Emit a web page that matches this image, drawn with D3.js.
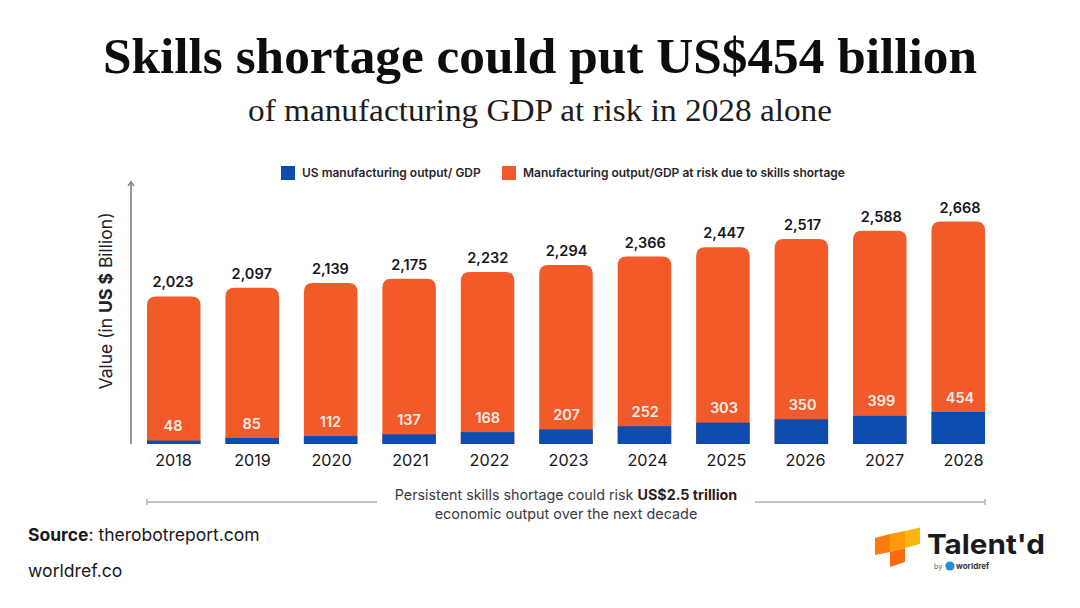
<!DOCTYPE html>
<html><head><meta charset="utf-8">
<script src="https://cdn.jsdelivr.net/npm/d3@7"></script>
<style>html,body{margin:0;padding:0;background:#fff}svg{display:block}text{font-family:Inter,sans-serif}</style>
</head><body><div id="c"></div>
<script>
const years=[2018,2019,2020,2021,2022,2023,2024,2025,2026,2027,2028];
const totals=[2023,2097,2139,2175,2232,2294,2366,2447,2517,2588,2668];
const atRisk=[48,85,112,137,168,207,252,303,350,399,454];
const legendLabels=["US manufacturing output/ GDP","Manufacturing output/GDP at risk due to skills shortage"];
const blue="#0b4cae",orange="#f25b29",ink="#16161a";
const svg=d3.select("#c").append("svg").attr("width",1080).attr("height",608);
const x=d3.scaleBand().domain(years).range([147,985]).paddingInner(0.318).paddingOuter(0);
const xTick=d3.scalePoint().domain(years).range([173,963]);
const xValue=d3.scalePoint().domain(years).range([173,960]);
const yTotal=d3.scaleLinear().domain([747,2668]).range([444,221]);
const yRisk=d3.scaleLinear().domain([0,454]).range([444,412]);
const tx=(s,xp,yp,size,weight,fill,anchor)=>svg.append("text").attr("x",xp).attr("y",yp).attr("font-size",size).attr("font-weight",weight).attr("fill",fill).attr("text-anchor",anchor||"start").text(s);

tx("Skills shortage could put US$454 billion",540,73,50,700,"#0d0d10","middle").style("font-family","'Liberation Serif',serif").attr("textLength",874).attr("lengthAdjust","spacingAndGlyphs");
tx("of manufacturing GDP at risk in 2028 alone",540,121,32,400,"#1c1c20","middle").style("font-family","'Liberation Serif',serif").attr("textLength",584).attr("lengthAdjust","spacingAndGlyphs");

// legend
const lg=svg.append("g");
[[281,302,blue],[502,523,orange]].forEach((d,i)=>{
  lg.append("rect").attr("x",d[0]).attr("y",166).attr("width",14).attr("height",14).attr("fill",d[2]);
  tx(legendLabels[i],d[1],177,12,600,"#26262c");
});

// bars
const r=9;
svg.append("g").selectAll("path").data(years).join("path")
 .attr("fill",orange)
 .attr("d",(d,i)=>{const x0=x(d),w=x.bandwidth(),t=yTotal(totals[i])+0.5,b=yTotal(747);
   return `M${x0},${b}V${t+r}Q${x0},${t} ${x0+r},${t}H${x0+w-r}Q${x0+w},${t} ${x0+w},${t+r}V${b}Z`;});
svg.append("g").selectAll("rect").data(years).join("rect")
 .attr("x",d=>x(d)).attr("width",x.bandwidth()).attr("fill",blue)
 .attr("y",(d,i)=>yRisk(atRisk[i])).attr("height",(d,i)=>yRisk(0)-yRisk(atRisk[i]));

// labels
years.forEach((d,i)=>{
  const c=xValue(d);
  tx(d3.format(",")(totals[i]),c,yTotal(totals[i])-9+(i>0?0.5:0),14.5,600,ink,"middle");
  tx(atRisk[i],c,yRisk(atRisk[i])-9.5,14.5,600,"#fbeee8","middle");
});
const xAxis=svg.append("g").attr("transform","translate(0,444)").call(d3.axisBottom(xTick).tickSize(0).tickPadding(10));
xAxis.select(".domain").remove();
xAxis.selectAll("text").attr("font-size",16.2).attr("fill",ink).style("font-family","Inter").attr("font-weight",400).attr("dy","0.75em");

// y arrow
svg.append("path").attr("d","M131,444V182").attr("stroke","#85858a").attr("stroke-width",1.7).attr("fill","none");
svg.append("path").attr("d","M128,186L131,181.5L134,186").attr("stroke","#85858a").attr("stroke-width",1.4).attr("fill","none");
const yt=svg.append("text").attr("transform","translate(112,301) rotate(-90)").attr("text-anchor","middle").attr("font-size",17.5).attr("fill","#222228");
yt.append("tspan").text("Value (in ");
yt.append("tspan").attr("font-weight",700).text("US $");
yt.append("tspan").text(" Billion)");

// bracket
const bc="#a8b3c7";
svg.append("path").attr("d","M147,502H377M755,502H985M147,499V505M985,499V505").attr("stroke",bc).attr("stroke-width",1.5).attr("fill","none");
const n1=svg.append("text").attr("x",566).attr("y",500).attr("text-anchor","middle").attr("font-size",14.3).attr("fill","#3a3a40");
n1.append("tspan").text("Persistent skills shortage could risk ");
n1.append("tspan").attr("font-weight",700).attr("fill","#2e2020").text("US$2.5 trillion");
tx("economic output over the next decade",566,519,14.4,400,"#3a3a40","middle");

// source
const s=svg.append("text").attr("x",28).attr("y",541).attr("font-size",17.5).attr("fill","#18181c");
s.append("tspan").attr("font-weight",700).text("Source");
s.append("tspan").text(": therobotreport.com");
tx("worldref.co",28,577,17.6,400,"#18181c");

// logo
const l=svg.append("g");
l.append("path").attr("d","M875,538L890,534V552L875,555Z").attr("fill","#fb7a12");
l.append("path").attr("d","M890,534L905,531V548L890,552Z").attr("fill","#fd9a0c");
l.append("path").attr("d","M905,531L920,527.5V544L905,548Z").attr("fill","#fdb60d");
l.append("path").attr("d","M890,552L905,548V562L890,567Z").attr("fill","#fb6a10");
tx("Talent'd",927,554,27.5,700,"#1a1b1f").attr("textLength",118).attr("lengthAdjust","spacingAndGlyphs");
tx("by",934,569,7,400,"#555");
l.append("circle").attr("cx",950).attr("cy",566).attr("r",4.6).attr("fill","#1f8fd8");
tx("worldref",956,569,8,700,"#33343a");
</script></body></html>
